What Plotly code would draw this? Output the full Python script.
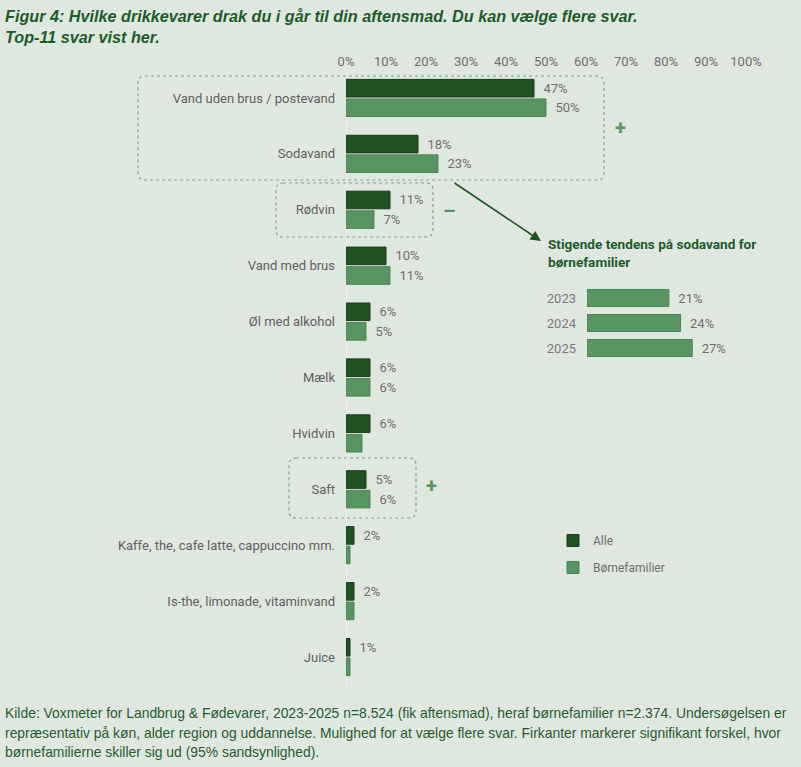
import plotly.graph_objects as go

# Data
categories = ["Vand uden brus / postevand", "Sodavand", "Rødvin", "Vand med brus",
              "Øl med alkohol", "Mælk", "Hvidvin", "Saft",
              "Kaffe, the, cafe latte, cappuccino mm.", "Is-the, limonade, vitaminvand", "Juice"]
alle = [47, 18, 11, 10, 6, 6, 6, 5, 2, 2, 1]
born = [50, 23, 7, 11, 5, 6, 4, 6, 1, 2, 1]
born_labelled = [True, True, True, True, True, True, False, True, False, False, False]

years = ["2023", "2024", "2025"]
soda_born = [21, 24, 27]

x_ticks = list(range(0, 101, 10))

source_lines = [
    "Kilde: Voxmeter for Landbrug & Fødevarer, 2023-2025 n=8.524 (fik aftensmad), heraf børnefamilier n=2.374. Undersøgelsen er",
    "repræsentativ på køn, alder region og uddannelse. Mulighed for at vælge flere svar. Firkanter markerer signifikant forskel, hvor",
    "børnefamilierne skiller sig ud (95% sandsynlighed).",
]

DARK = "#1f5122"
LIGHT = "#599463"
BG = "#dfe8df"
GREY = "#6e6e6e"
FONT = "Roboto"

W, H = 801, 767
L, R, T, B = 346, 746, 70, 685


def px_x(p):
    return (p - L) / (R - L)


def px_y(p):
    return (B - p) / (B - T)


def round_box(x0, y0, x1, y1, r=7):
    # rounded rectangle in paper coords, corners given in pixels
    rx = r / (R - L)
    ry = r / (B - T)
    a, b, c, d = px_x(x0), px_y(y0), px_x(x1), px_y(y1)
    return (f"M {a + rx},{b} L {c - rx},{b} Q {c},{b} {c},{b - ry} "
            f"L {c},{d + ry} Q {c},{d} {c - rx},{d} L {a + rx},{d} "
            f"Q {a},{d} {a},{d + ry} L {a},{b - ry} Q {a},{b} {a + rx},{b} Z")


fig = go.Figure()
fig.add_trace(go.Bar(
    y=categories, x=alle, orientation="h", name="Alle",
    marker=dict(color=DARK, line=dict(color="#173f1a", width=1)),
    text=[f"  {v}%" for v in alle], textposition="outside",
    textfont=dict(color=GREY, size=13, family=FONT), cliponaxis=False,
    legendgroup="a", hoverinfo="x+y"))
fig.add_trace(go.Bar(
    y=categories, x=born, orientation="h", name="Børnefamilier",
    marker=dict(color=LIGHT, line=dict(color="#4c8556", width=1)),
    text=[f"  {v}%" if s else "" for v, s in zip(born, born_labelled)], textposition="outside",
    textfont=dict(color=GREY, size=13, family=FONT), cliponaxis=False,
    legendgroup="b", hoverinfo="x+y"))

# inset: sodavand trend for families
fig.add_trace(go.Bar(
    y=years, x=soda_born, orientation="h", xaxis="x2", yaxis="y2",
    marker=dict(color=LIGHT, line=dict(color="#4c8556", width=1)), width=0.68,
    text=[f"  {v}%" for v in soda_born], textposition="outside",
    textfont=dict(color=GREY, size=13, family=FONT), cliponaxis=False,
    showlegend=False, hoverinfo="x+y"))

fig.update_layout(
    width=W, height=H,
    margin=dict(l=L, r=W - R, t=T, b=H - B),
    paper_bgcolor=BG, plot_bgcolor=BG,
    font=dict(family=FONT, color=GREY, size=13),
    barmode="group", bargap=0.3, bargroupgap=0.1,
    xaxis=dict(range=[0, 100], side="top", tickvals=x_ticks,
               ticktext=[f"{v}%" for v in x_ticks], showgrid=False,
               zeroline=True, zerolinecolor="#eef3ee", zerolinewidth=1,
               showline=False, ticks="", tickfont=dict(color=GREY, size=13)),
    yaxis=dict(categoryorder="array", categoryarray=categories, autorange="reversed",
               showgrid=False, zeroline=False, ticks="", ticklabelstandoff=10,
               tickfont=dict(color="#5f5f5f", size=13)),
    xaxis2=dict(domain=[px_x(587), 1], range=[0, (R - 587) / 3.9], anchor="y2",
                visible=False),
    yaxis2=dict(domain=[px_y(360.5), px_y(285.5)], anchor="x2", autorange="reversed",
                showgrid=False, zeroline=False, ticks="", ticklabelstandoff=10,
                tickfont=dict(color="#7a7a7a", size=13)),
    legend=dict(x=px_x(553), y=px_y(526), xanchor="left", yanchor="top",
                traceorder="grouped", tracegroupgap=8, bgcolor="rgba(0,0,0,0)",
                font=dict(color=GREY, size=12), itemwidth=30),
    showlegend=True,
)

# significance boxes
for box in [(138, 76, 604, 180), (276, 183, 433, 237), (289, 458, 416, 518)]:
    fig.add_shape(type="path", path=round_box(*box), xref="paper", yref="paper",
                  line=dict(color="#7fa586", width=1.2, dash="dot"))

annotations = [
    dict(text="<b><i>Figur 4: Hvilke drikkevarer drak du i går til din aftensmad. Du kan vælge flere svar."
              "<br>Top-11 svar vist her.</i></b>",
         x=px_x(3), y=px_y(5), xanchor="left", yanchor="top", align="left",
         font=dict(family="Liberation Sans", size=16.2, color="#1f5a2a")),
    dict(text="<b>Stigende tendens på sodavand for<br>børnefamilier</b>",
         x=px_x(546), y=px_y(234), xanchor="left", yanchor="top", align="left",
         font=dict(family=FONT, size=13.6, color="#1f5a2a")),
    dict(text="<b>+</b>", x=px_x(620), y=px_y(128), xanchor="center", yanchor="middle",
         font=dict(size=20, color=LIGHT)),
    dict(text="<b>–</b>", x=px_x(449), y=px_y(211), xanchor="center", yanchor="middle",
         font=dict(size=20, color=LIGHT)),
    dict(text="<b>+</b>", x=px_x(431), y=px_y(486), xanchor="center", yanchor="middle",
         font=dict(size=20, color=LIGHT)),
]
for line, yc, size in zip(source_lines, [713, 733, 752], [13.9, 13.9, 13.9]):
    annotations.append(dict(text=line, x=px_x(3), y=px_y(yc), xanchor="left", yanchor="middle",
                            align="left", font=dict(family="Liberation Sans", size=size, color="#2a5a30")))
for a in annotations:
    fig.add_annotation(xref="paper", yref="paper", showarrow=False, **a)

# arrow from box to inset
fig.add_annotation(xref="paper", yref="paper", x=px_x(541), y=px_y(241), ax=-88, ay=-59,
                   text="", showarrow=True, arrowhead=2, arrowsize=1.3, arrowwidth=1.6,
                   arrowcolor=DARK)

fig.write_html("out.html", config={"displayModeBar": False},
               post_script="document.body.style.margin='0';")
